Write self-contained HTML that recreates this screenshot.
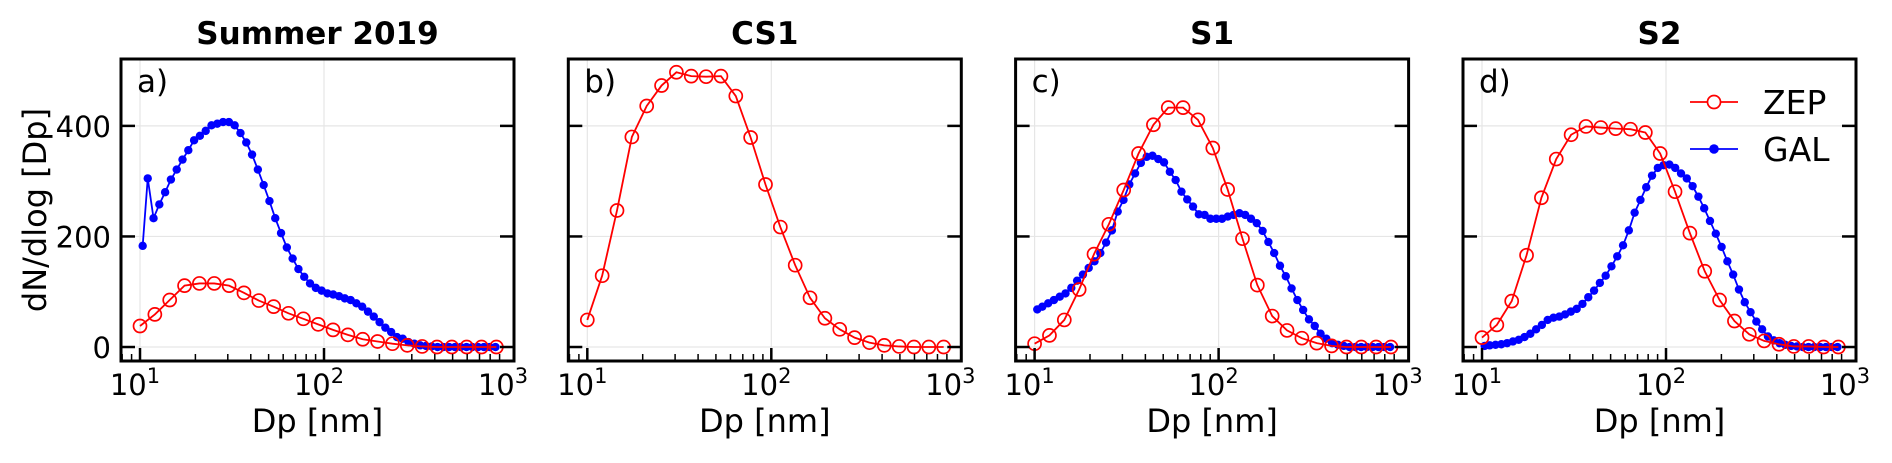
<!DOCTYPE html>
<html><head><meta charset="utf-8"><style>
html,body{margin:0;padding:0;background:#fff;}
svg text{font-family:"DejaVu Sans","Liberation Sans",sans-serif;}
</style></head><body>
<svg id="fig" width="1892" height="458" viewBox="0 0 1892 458" xmlns="http://www.w3.org/2000/svg"></svg>
<script>
const panelTitles = ["Summer 2019","CS1","S1","S2"];
const panelLetters = ["a)","b)","c)","d)"];
const zepA = [38,59,85,111,115,115,111,98,84,73,61,51,41,31,22,14,10,6,3,1,0,0,0,0,0];
const zepB = [49,129,247,380,436,473,497,490,489,490,454,379,294,217,148,89,52,32,17,8,3,1,0,0,0];
const zepC = [6,21,49,104,168,222,284,350,402,433,433,411,360,285,196,112,56,30,16,7,2,0,0,0,0];
const zepD = [17,40,83,166,270,340,384,399,397,395,394,388,350,281,206,137,85,47,23,11,5,1,1,0,0];
const galA = [183,305,233,258,280,303,321,339,356,374,382,391,401,404,407,407,401,387,370,348,321,293,264,233,206,180,160,141,127,115,107,102,97,95,92,88,85,79,73,64,55,45,35,27,18,15,9,6,3,2,1,0,0,0,0,0,0,0,0,0,0,0];
const galC = [68,73,79,85,91,97,107,120,131,143,155,170,189,211,245,266,294,314,333,344,346,340,334,317,302,281,267,254,240,239,232,232,232,236,239,242,239,232,224,210,190,170,147,128,106,85,67,50,38,24,15,7,4,2,0,0,0,0,0,0,0,0];
const galD = [2,3,4,5,7,10,13,18,24,32,40,49,53,55,59,64,69,78,90,102,116,129,146,164,184,211,243,266,289,310,324,329,330,324,314,305,291,272,251,228,205,181,155,131,104,81,63,46,32,19,12,7,4,2,1,0,0,0,0,0,0,0];
const zepSeries = [zepA,zepB,zepC,zepD];
const galSeries = [galA,null,galC,galD];
const yTicks = [0,200,400];
const xTickExp = [1,2,3];
const zepLog0 = 1.0, zepStep = 0.0807;
const galLog0 = 1.0145, galLog1 = 1.042, galStep = 0.0315;

const NS="http://www.w3.org/2000/svg";
const svg=document.getElementById('fig');
function mk(tag,attrs,parent){const e=document.createElementNS(NS,tag);for(const k in attrs)e.setAttribute(k,attrs[k]);(parent||svg).appendChild(e);return e;}
const PW=393, PT=59, PB=361, lefts=[121,568.3,1015.6,1463];
const LMIN=0.8967, LMAX=LMIN+PW/184, YMIN=-25.3, YMAX=521;
function sx(i,d){return lefts[i]+(Math.log10(d)-LMIN)/(LMAX-LMIN)*PW;}
function sy(v){return PB-(v-YMIN)/(YMAX-YMIN)*(PB-PT);}
function zepX(k){return Math.pow(10,zepLog0+zepStep*k);}
function galX(k){return Math.pow(10,k===0?galLog0:galLog1+galStep*(k-1));}

for(let i=0;i<4;i++){
  const L=lefts[i],R=L+PW;
  const g=mk('g',{});
  
  
  yTicks.forEach(t=>{const l=mk('line',{x1:L,x2:R,y1:sy(t),y2:sy(t),stroke:'#e6e6e6','stroke-width':1.2},g);
    });
  [1,2].forEach(e=>{const x=sx(i,Math.pow(10,e));const l=mk('line',{x1:x,x2:x,y1:PT,y2:PB,stroke:'#e6e6e6','stroke-width':1.2},g);
    });
  const z=zepSeries[i];
  const zp=z.map((v,k)=>[sx(i,zepX(k)),sy(v)]);
  const gal=galSeries[i];
  if(gal){
    const gp=gal.map((v,k)=>[sx(i,galX(k)),sy(v)]);
    const pl=mk('polyline',{points:gp.map(p=>p.join(',')).join(' '),fill:'none',stroke:'#0000ff','stroke-width':1.8},g);
    
    gp.forEach(p=>{const c=mk('circle',{cx:p[0],cy:p[1],r:4.2,fill:'#0000ff'},g);
      });
  }
  const zl=mk('polyline',{points:zp.map(p=>p.join(',')).join(' '),fill:'none',stroke:'#ff0000','stroke-width':1.8},g);
  
  zp.forEach(p=>{const c=mk('circle',{cx:p[0],cy:p[1],r:6.5,fill:'none',stroke:'#ff0000','stroke-width':1.7},g);
    });
  const fr=mk('rect',{x:L,y:PT,width:PW,height:PB-PT,fill:'none',stroke:'#000','stroke-width':3},g);
  
  yTicks.forEach(t=>{const y=sy(t);
    mk('line',{x1:L,x2:L+14,y1:y,y2:y,stroke:'#000','stroke-width':2.5},g);
    mk('line',{x1:R-14,x2:R,y1:y,y2:y,stroke:'#000','stroke-width':2.5},g);
    if(i===0){const tx=mk('text',{x:111,y:y+11,'text-anchor':'end','font-size':29},g);tx.textContent=t;
      }
  });
  for(let e=1;e<=3;e++){for(let m=1;m<10;m++){const d=m*Math.pow(10,e-1);const x=sx(i,d);
    if(x<L||x>R)continue; const len=m===1?13:7;
    mk('line',{x1:x,x2:x,y1:PB,y2:PB-len,stroke:'#000','stroke-width':m===1?2.5:1.5},g);}}
  xTickExp.forEach(e=>{const x=sx(i,Math.pow(10,e));
    const tx=mk('text',{x:x-5,y:395,'text-anchor':'middle','font-size':29},g);
    tx.textContent='10';const ts=mk('tspan',{dy:-12,'font-size':21},tx);ts.textContent=e;
    });
  const xl=mk('text',{x:L+PW/2,y:432,'text-anchor':'middle','font-size':32},g);xl.textContent='Dp [nm]';
  
  const tt=mk('text',{x:L+PW/2,y:44,'text-anchor':'middle','font-size':31,'font-weight':'bold'},g);tt.textContent=panelTitles[i];
  
  const lt=mk('text',{x:L+16,y:92,'font-size':31},g);lt.textContent=panelLetters[i];
  
}
const yl=mk('text',{x:0,y:0,'text-anchor':'middle','font-size':32,transform:'translate(46,210) rotate(-90)'});
yl.textContent='dN/dlog [Dp]';


const lg=mk('g',{});


mk('line',{x1:1690,x2:1738,y1:102,y2:102,stroke:'#ff0000','stroke-width':1.8},lg);
mk('circle',{cx:1714,cy:102,r:6.5,fill:'#fff',stroke:'#ff0000','stroke-width':1.7},lg);
const t1=mk('text',{x:1763,y:114,'font-size':33},lg);t1.textContent='ZEP';


mk('line',{x1:1690,x2:1738,y1:149,y2:149,stroke:'#0000ff','stroke-width':1.8},lg);
mk('circle',{cx:1714,cy:149,r:4.8,fill:'#0000ff'},lg);
const t2=mk('text',{x:1763,y:161,'font-size':33},lg);t2.textContent='GAL';


</script>
</body></html>
